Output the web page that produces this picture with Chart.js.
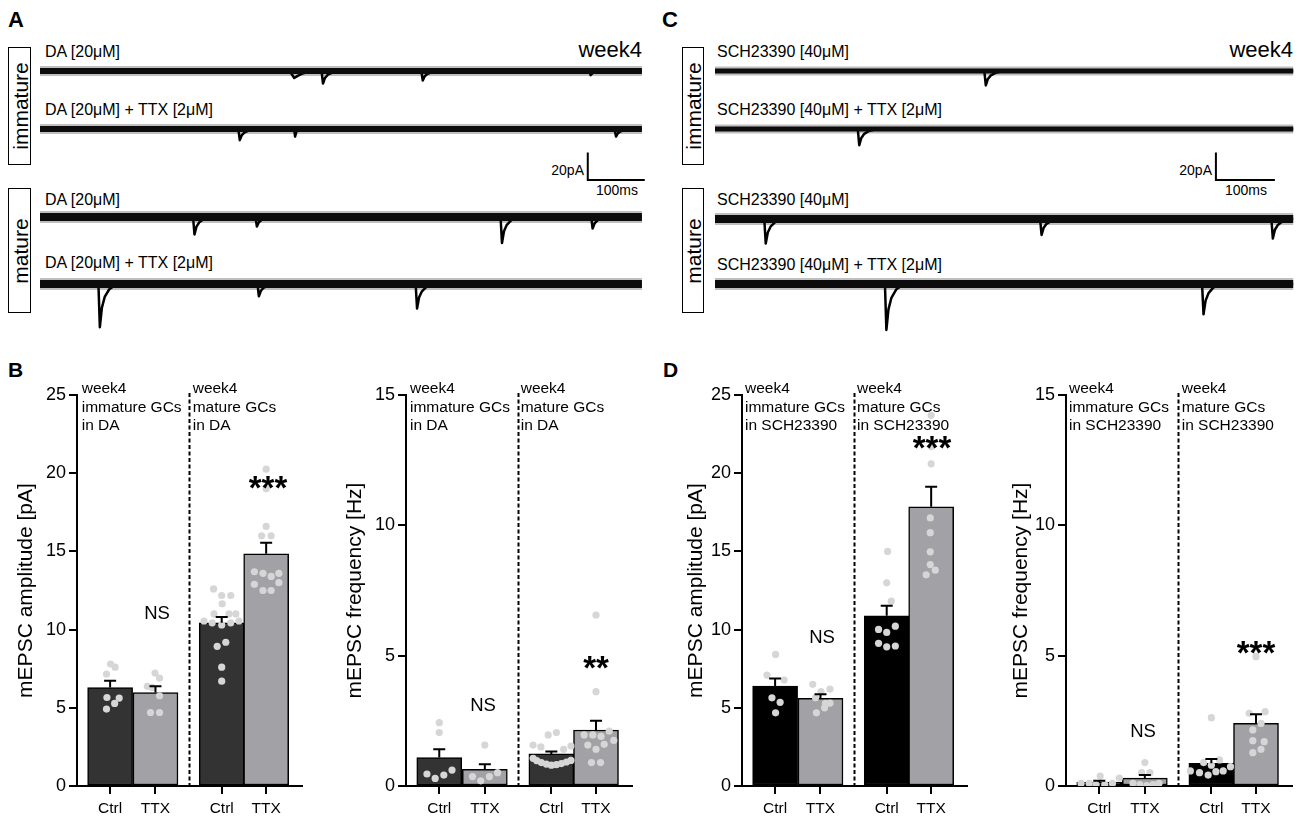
<!DOCTYPE html>
<html><head><meta charset="utf-8">
<script src="https://cdn.jsdelivr.net/npm/chart.js@4.4.1/dist/chart.umd.min.js"></script>
<style>
body{margin:0;width:1300px;height:821px;background:#fff;position:relative;overflow:hidden;font-family:"Liberation Sans",Arial,sans-serif;color:#000}
.t{position:absolute;white-space:nowrap;line-height:1}
canvas{position:absolute}
.box{position:absolute;border:1.5px solid #000;box-sizing:border-box}
.rot{position:absolute;transform:translate(-50%,-50%) rotate(-90deg);white-space:nowrap;line-height:1}
</style></head><body>
<script>
// ---------------- TRACE DATA (time ms, current pA) ----------------
const traceA1 = [[0,0],[438,0],[446,-5.1],[452,-3.5],[462,-1.6],[476,0],[494,0],[496.5,-9.1],[500,-5],[505,-2.7],[513,-1.1],[525,0],[669,0],[671.5,-6.9],[675,-3.8],[680,-2.1],[688,-0.8],[700,0],[964,0],[966,-3],[970,-1.4],[980,0],[1056,0]];
const traceA2 = [[0,0],[348,0],[350.5,-8.1],[354,-4.5],[359,-2.4],[367,-1],[380,0],[446,0],[447.5,-5.5],[450,-1.8],[456,0],[1008,0],[1010.5,-5.5],[1014,-3],[1019,-1.6],[1027,-0.6],[1040,0],[1056,0]];
const traceA3 = [[0,0],[268.5,0],[271,-12.7],[274.5,-7],[279.5,-3.8],[287.5,-1.5],[300,0],[378,0],[380.5,-6.9],[384,-3.8],[389,-2.1],[397,-0.8],[410,0],[808,0],[810.5,-18.9],[814,-10.4],[819,-5.7],[827,-2.3],[840,0],[967,0],[969.5,-8.4],[973,-4.6],[978,-2.5],[986,-1],[999,0],[1056,0]];
const traceA4 = [[0,0],[102.5,0],[105,-31.4],[108.5,-17.3],[113.5,-9.4],[121.5,-3.8],[135,0],[381.5,0],[384,-8.9],[387.5,-4.9],[392.5,-2.7],[400.5,-1.1],[413,0],[659,0],[661.5,-17.8],[665,-9.8],[670,-5.3],[678,-2.1],[691,0],[1056,0]];
const traceC1 = [[0,0],[456.5,0],[459,-10.5],[462.5,-5.8],[467.5,-3.2],[475.5,-1.3],[488,0],[980,0]];
const traceC2 = [[0,0],[242,0],[244.5,-11.8],[248,-6.5],[253,-3.5],[261,-1.4],[274,0],[980,0]];
const traceC3 = [[0,0],[83.5,0],[86,-17.8],[89.5,-9.8],[94.5,-5.3],[102.5,-2.1],[115,0],[551,0],[553.5,-11.6],[557,-6.4],[562,-3.5],[570,-1.4],[583,0],[943,0],[945.5,-14.2],[949,-7.8],[954,-4.3],[962,-1.7],[975,0],[980,0]];
const traceC4 = [[0,0],[288,0],[290.5,-33.4],[294,-18.4],[299,-10],[307,-4],[320,0],[825.5,0],[828,-22],[831.5,-12.1],[836.5,-6.6],[844.5,-2.6],[857,0],[980,0]];
const durationA = 1056, durationC = 980;
const scaleBarMs = 100, scaleBarPA = 20;
const scaleBarA = [[961,-17.1],[961,-17.1-scaleBarPA],[961+scaleBarMs,-17.1-scaleBarPA]];
const scaleBarC = [[849,-17.1],[849,-17.1-scaleBarPA],[849+scaleBarMs,-17.1-scaleBarPA]];

// ---------------- BAR DATA ----------------
const xPos = [0, 1, 2.46, 3.44];
const xLabels = ['Ctrl','TTX','Ctrl','TTX'];
const dividerX = 1.73;

const B1_mean = [6.3, 5.98, 10.43, 14.85];
const B1_sem  = [0.43, 0.39, 0.37, 0.7];
const B1_dots = [
  [[0.01,7.8],[0.11,7.6],[-0.08,7.16],[-0.07,5.66],[0.2,5.62],[0.1,5.28],[-0.08,4.92]],
  [[-0.01,7.22],[0.09,6.9],[-0.18,6.37],[-0.07,6.3],[0.09,5.77],[-0.11,4.7],[0.09,4.7]],
  [[-0.18,12.6],[0,12.18],[0.2,12.18],[0.01,11.65],[-0.17,11.0],[0.16,11.0],[0.31,11.0],[-0.39,10.55],[-0.21,10.43],[0,10.3],[0.2,10.43],[0.38,10.55],[-0.1,8.93],[0.09,9.19],[0,7.6],[0,6.7]],
  [[0,20.26],[0,19.0],[0,16.6],[-0.1,16.0],[0.11,16.0],[-0.26,13.7],[-0.07,13.6],[0.28,13.6],[0.11,13.4],[-0.26,12.9],[0.28,13.0],[-0.07,12.5],[0.11,12.5]]
];

const B2_mean = [1.09, 0.64, 1.23, 2.15];
const B2_sem  = [0.32, 0.19, 0.09, 0.35];
const B2_dots = [
  [[0,2.43],[0,2.05],[-0.27,0.46],[-0.09,0.29],[0.1,0.42],[0.28,0.61]],
  [[0,1.57],[-0.27,0.36],[-0.09,0.2],[0.1,0.36],[0.28,0.51]],
  [[-0.4,1.57],[-0.23,1.5],[-0.07,1.96],[0.11,2.05],[0.27,1.41],[0.43,1.53],[-0.4,1.06],[-0.32,0.97],[-0.22,0.9],[-0.11,0.84],[0,0.8],[0.11,0.82],[0.22,0.86],[0.33,0.92],[0.43,0.98]],
  [[0,6.56],[0,3.62],[-0.26,1.96],[-0.07,1.96],[0.11,1.9],[0.29,2.11],[-0.18,1.57],[0,1.41],[0.18,1.6],[0.39,1.75],[-0.1,0.9],[0.1,0.9]]
];

const D1_mean = [6.39, 5.6, 10.88, 17.85];
const D1_sem  = [0.49, 0.26, 0.64, 1.28];
const D1_dots = [
  [[0.01,8.41],[-0.18,7.09],[0.2,6.77],[-0.07,5.64],[0.11,5.35],[0.01,4.68]],
  [[-0.17,6.5],[0.01,6.03],[0.21,6.2],[-0.11,5.64],[0.11,5.28],[-0.09,4.68],[0.09,5.0],[0.21,5.3]],
  [[0.02,15.0],[0,12.99],[0.1,11.82],[-0.18,10.01],[0,9.82],[0.19,10.22],[-0.18,9.12],[0,8.9],[0.19,8.95]],
  [[0,23.7],[0,21.7],[0,20.6],[-0.02,17.14],[-0.02,16.2],[-0.02,14.97],[-0.02,14.16],[0.09,13.8],[-0.11,13.5]]
];

const D2_mean = [0.14, 0.3, 0.87, 2.4];
const D2_sem  = [0.06, 0.12, 0.17, 0.35];
const D2_dots = [
  [[-0.4,0.1],[-0.22,0.1],[0.02,0.38],[-0.07,0.05],[0.12,0.05],[0.29,0.1],[0.44,0.3]],
  [[0,0.9],[-0.07,0.51],[0.11,0.51],[-0.26,0.1],[-0.11,0.05],[0.04,0.02],[0.18,0.05],[0.31,0.1]],
  [[0,2.62],[-0.46,0.58],[-0.26,0.51],[-0.07,0.42],[0.1,0.55],[0.26,0.58],[0.42,0.74],[0,0.8],[-0.17,0.9],[0.18,1.0]],
  [[0,4.96],[-0.15,2.79],[0.2,2.85],[0.11,2.4],[-0.07,2.15],[-0.07,1.74],[0.18,1.7],[-0.07,1.28],[0.11,1.41]]
];

// ---------------- SETUP ----------------
Chart.defaults.font.family = "'Liberation Sans', Arial, sans-serif";
Chart.defaults.color = '#000';

function txt(str, x, yc, size, o) {
  o = o || {};
  const d = document.createElement('div');
  d.className = 't';
  d.textContent = str;
  d.style.fontSize = size + 'px';
  if (o.bold) d.style.fontWeight = 'bold';
  const k = o.star ? 0.275 : 0.488;
  d.style.top = (yc - k * size) + 'px';
  if (o.align === 'center') { d.style.left = x + 'px'; d.style.transform = 'translateX(-50%)'; }
  else if (o.align === 'right') { d.style.right = (1300 - x) + 'px'; }
  else d.style.left = x + 'px';
  document.body.appendChild(d);
  return d;
}
function boxLabel(str, l, t, r, b, size) {
  const bx = document.createElement('div');
  bx.className = 'box';
  bx.style.left = l + 'px'; bx.style.top = t + 'px';
  bx.style.width = (r - l) + 'px'; bx.style.height = (b - t) + 'px';
  document.body.appendChild(bx);
  const d = document.createElement('div');
  d.className = 'rot';
  d.textContent = str;
  d.style.fontSize = size + 'px';
  d.style.left = ((l + r) / 2) + 'px';
  d.style.top = ((t + b) / 2) + 'px';
  document.body.appendChild(d);
}

function traceChart(left, centerY, width, xMax, data, duration, bandW, extra) {
  const c = document.createElement('canvas');
  c.width = width; c.height = 85;
  c.style.left = left + 'px'; c.style.top = (centerY - 25) + 'px';
  document.body.appendChild(c);
  const band = [[0,0],[duration,0]];
  const ds = [
    {data: band, borderColor: 'rgba(0,0,0,0.25)', borderWidth: bandW + 4},
    {data: band, borderColor: '#111', borderWidth: bandW},
    {data: data, borderColor: '#000', borderWidth: 2.5, borderJoinStyle: 'round'}
  ];
  if (extra) ds.push({data: extra, borderColor: '#000', borderWidth: 2, borderJoinStyle: 'miter'});
  new Chart(c, {
    type: 'line',
    data: {datasets: ds.map(d => Object.assign({pointRadius: 0, tension: 0, fill: false, borderCapStyle: 'butt'}, d))},
    options: {
      responsive: false, animation: false, devicePixelRatio: 1,
      layout: {padding: 0},
      plugins: {legend: {display: false}, tooltip: {enabled: false}},
      scales: {
        x: {type: 'linear', min: 0, max: xMax, display: false},
        y: {type: 'linear', min: -43.6, max: 18.18, display: false}
      }
    }
  });
}

function barChart(o) {
  const c = document.createElement('canvas');
  const W = o.right - o.left + 8, H = 442;
  c.width = W; c.height = H;
  c.style.left = o.left + 'px'; c.style.top = '379px';
  document.body.appendChild(c);
  const dotData = [];
  o.dots.forEach((g, gi) => g.forEach(([j, v]) => dotData.push({x: xPos[gi] + j, y: v})));
  const mean = o.mean, sem = o.sem;
  const deco = {
    id: 'deco',
    afterDatasetsDraw(chart) {
      const ctx = chart.ctx, xs = chart.scales.x, ys = chart.scales.y, ca = chart.chartArea;
      ctx.save();
      ctx.strokeStyle = '#000';
      ctx.lineWidth = 2;
      ctx.setLineDash([4, 2.5]);
      const dx = Math.round(xs.getPixelForValue(dividerX)) + 0.5;
      ctx.beginPath(); ctx.moveTo(dx, ca.top - 2); ctx.lineTo(dx, ca.bottom); ctx.stroke();
      ctx.setLineDash([]);
      for (let i = 0; i < mean.length; i++) {
        const x = xs.getPixelForValue(xPos[i]);
        const y1 = ys.getPixelForValue(mean[i]);
        const y2 = ys.getPixelForValue(mean[i] + sem[i]);
        ctx.beginPath();
        ctx.moveTo(x, y1); ctx.lineTo(x, y2);
        ctx.moveTo(x - 6, y2); ctx.lineTo(x + 6, y2);
        ctx.stroke();
      }
      ctx.restore();
    }
  };
  new Chart(c, {
    type: 'bar',
    data: {
      datasets: [
        {type: 'scatter', data: dotData, pointRadius: 3.6, pointBackgroundColor: '#d6d6d6', pointBorderWidth: 0, order: 0},
        {type: 'bar', data: xPos.map((x, i) => ({x: x, y: mean[i]})), backgroundColor: o.colors,
         borderColor: '#000', borderWidth: 1.5, borderSkipped: false, barThickness: 45, order: 1}
      ]
    },
    options: {
      responsive: false, animation: false, devicePixelRatio: 1,
      layout: {padding: {top: 16, right: 8, left: 0, bottom: 0}},
      plugins: {legend: {display: false}, tooltip: {enabled: false}},
      scales: {
        x: {
          type: 'linear', min: -0.73, max: 4.23, offset: false,
          afterBuildTicks: s => { s.ticks = xPos.map(v => ({value: v})); },
          afterFit: s => { s.height = 35; },
          ticks: {autoSkip: false, maxRotation: 0, padding: 5, font: {size: 15.5}, callback: (v, i) => xLabels[i]},
          grid: {offset: false, drawOnChartArea: false, drawTicks: true, tickLength: 8, color: '#000', lineWidth: 2},
          border: {display: true, color: '#000', width: 2}
        },
        y: {
          type: 'linear', min: 0, max: o.yMax,
          afterFit: s => { s.width = o.axisX - o.left; },
          ticks: {stepSize: 5, padding: 3, font: {size: 18}},
          grid: {drawOnChartArea: false, drawTicks: true, tickLength: 8, color: '#000', lineWidth: 2},
          border: {display: true, color: '#000', width: 2},
          title: {display: true, text: o.title, font: {size: 21}, padding: {top: 14, bottom: 0}}
        }
      }
    },
    plugins: [deco]
  });
}

// ---------------- PANEL A & C : traces ----------------
txt('A', 8, 20, 22, {bold: true});
txt('C', 662, 20, 22, {bold: true});
txt('week4', 642, 49.5, 22, {align: 'right'});
txt('week4', 1293, 49.5, 22, {align: 'right'});
boxLabel('immature', 8, 47, 31, 165, 21);
boxLabel('mature', 8, 188, 31, 313, 21);
boxLabel('immature', 682, 47, 704, 165, 21);
boxLabel('mature', 682, 188, 704, 313, 21);

txt('DA [20μM]', 45, 52, 16);
txt('DA [20μM] + TTX [2μM]', 45, 110, 16);
txt('DA [20μM]', 45, 200, 16);
txt('DA [20μM] + TTX [2μM]', 45, 263, 16);
txt('SCH23390 [40μM]', 717, 52, 16);
txt('SCH23390 [40μM] + TTX [2μM]', 717, 110, 16);
txt('SCH23390 [40μM]', 717, 200, 16);
txt('SCH23390 [40μM] + TTX [2μM]', 717, 265, 16);

txt('20pA', 584, 170, 14, {align: 'right'});
txt('100ms', 617, 190, 14, {align: 'center'});
txt('20pA', 1212, 170, 14, {align: 'right'});
txt('100ms', 1246, 190, 14, {align: 'center'});

const pxA = 0.57, pxC = 0.59;
traceChart(40, 71, 610, 610 / pxA, traceA1, durationA, 6);
traceChart(40, 129, 610, 610 / pxA, traceA2, durationA, 6, scaleBarA);
traceChart(40, 217, 610, 610 / pxA, traceA3, durationA, 8);
traceChart(40, 284, 610, 610 / pxA, traceA4, durationA, 8);
traceChart(715, 71, 585, 585 / pxC, traceC1, durationC, 5);
traceChart(715, 129, 585, 585 / pxC, traceC2, durationC, 5, scaleBarC);
traceChart(715, 219, 585, 585 / pxC, traceC3, durationC, 8);
traceChart(715, 284, 585, 585 / pxC, traceC4, durationC, 8);

// ---------------- PANEL B & D : bars ----------------
txt('B', 8, 369.5, 21, {bold: true});
txt('D', 663, 369.5, 21, {bold: true});

const grayTTX = '#a2a2a6';
barChart({left: 0, axisX: 77, right: 302, yMax: 25, title: 'mEPSC amplitude [pA]', mean: B1_mean, sem: B1_sem, dots: B1_dots, colors: ['#333333', grayTTX, '#333333', grayTTX]});
barChart({left: 329, axisX: 406, right: 632, yMax: 15, title: 'mEPSC frequency [Hz]', mean: B2_mean, sem: B2_sem, dots: B2_dots, colors: ['#333333', grayTTX, '#333333', grayTTX]});
barChart({left: 670, axisX: 742, right: 967, yMax: 25, title: 'mEPSC amplitude [pA]', mean: D1_mean, sem: D1_sem, dots: D1_dots, colors: ['#000000', grayTTX, '#000000', grayTTX]});
barChart({left: 995, axisX: 1066, right: 1292, yMax: 15, title: 'mEPSC frequency [Hz]', mean: D2_mean, sem: D2_sem, dots: D2_dots, colors: ['#000000', grayTTX, '#000000', grayTTX]});

function header(x, lines) {
  const ys = [388, 406.5, 425];
  lines.forEach((l, i) => txt(l, x, ys[i], 15.5));
}
header(81.7, ['week4', 'immature GCs', 'in DA']);
header(192.7, ['week4', 'mature GCs', 'in DA']);
header(410, ['week4', 'immature GCs', 'in DA']);
header(520.7, ['week4', 'mature GCs', 'in DA']);
header(745, ['week4', 'immature GCs', 'in SCH23390']);
header(857, ['week4', 'mature GCs', 'in SCH23390']);
header(1069, ['week4', 'immature GCs', 'in SCH23390']);
header(1181.7, ['week4', 'mature GCs', 'in SCH23390']);

txt('NS', 157, 613, 18.5, {align: 'center'});
txt('***', 268, 480, 33, {align: 'center', star: true, bold: true});
txt('NS', 483, 705, 18.5, {align: 'center'});
txt('**', 596, 660, 33, {align: 'center', star: true, bold: true});
txt('NS', 822, 637, 18.5, {align: 'center'});
txt('***', 932, 440, 33, {align: 'center', star: true, bold: true});
txt('NS', 1143, 731, 18.5, {align: 'center'});
txt('***', 1256, 645, 33, {align: 'center', star: true, bold: true});
</script>
</body></html>
